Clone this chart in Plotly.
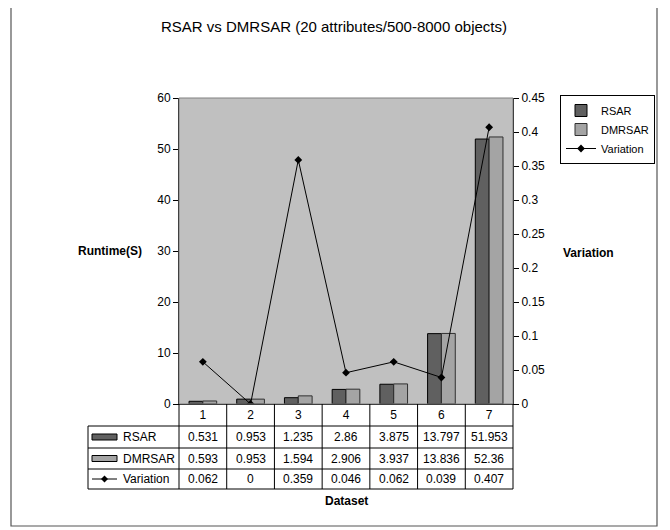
import plotly.graph_objects as go

# ---- data ----
datasets = [1, 2, 3, 4, 5, 6, 7]
rsar = [0.531, 0.953, 1.235, 2.86, 3.875, 13.797, 51.953]
dmrsar = [0.593, 0.953, 1.594, 2.906, 3.937, 13.836, 52.36]
variation = [0.062, 0, 0.359, 0.046, 0.062, 0.039, 0.407]
series_names = ["RSAR", "DMRSAR", "Variation"]

# ---- layout geometry (page pixels; the page body has an 8px margin) ----
OFF = 8
WIDTH, HEIGHT = 670 - OFF, 530 - OFF
PL, PR, PT, PB = 179, 513, 98, 404  # plot area edges in page pixels
PW, PH = PR - PL, PB - PT
FONT = "Liberation Sans, Arial, sans-serif"
C_RSAR = "#606060"
C_DMR = "#a4a4a4"


def px(x):
    return (x - PL) / PW


def py(y):
    return (PB - y) / PH


fig = go.Figure()
fig.add_trace(go.Bar(x=datasets, y=rsar, name=series_names[0],
                     marker=dict(color=C_RSAR, line=dict(color="black", width=1))))
fig.add_trace(go.Bar(x=datasets, y=dmrsar, name=series_names[1],
                     marker=dict(color=C_DMR, line=dict(color="#303030", width=1))))
fig.add_trace(go.Scatter(x=datasets, y=variation, name=series_names[2], yaxis="y2",
                         mode="lines+markers",
                         line=dict(color="black", width=1),
                         marker=dict(symbol="diamond", size=6, color="black")))

shapes = []
annotations = []

# outer chart border
shapes.append(dict(type="rect", xref="paper", yref="paper",
                   x0=px(11), x1=px(657), y0=py(526), y1=py(4),
                   line=dict(color="#555555", width=1.2), layer="below"))
# plot-area border (grey)
shapes.append(dict(type="rect", xref="paper", yref="paper",
                   x0=0, x1=1, y0=0, y1=1,
                   line=dict(color="#808080", width=1)))

# data table
n = len(datasets)
row_tops = [404, 426, 448, 469, 489]
TL = 88  # table left edge
for yy in row_tops[1:]:
    shapes.append(dict(type="line", xref="paper", yref="paper", x0=px(TL), x1=1,
                       y0=py(yy), y1=py(yy), line=dict(color="black", width=1)))
for k in range(n + 1):
    xx = k / n
    shapes.append(dict(type="line", xref="paper", yref="paper", x0=xx, x1=xx,
                       y0=py(row_tops[-1]), y1=0, line=dict(color="black", width=1)))
shapes.append(dict(type="line", xref="paper", yref="paper", x0=px(TL), x1=px(TL),
                   y0=py(row_tops[-1]), y1=py(row_tops[1]), line=dict(color="black", width=1)))

rows = [rsar, dmrsar, variation]
for r, vals in enumerate(rows):
    ycp = (row_tops[r + 1] + row_tops[r + 2]) / 2
    yc = py(ycp)
    for k, v in enumerate(vals):
        annotations.append(dict(x=datasets[k], xref="x", y=yc, yref="paper",
                                text=f"{v:g}", showarrow=False,
                                font=dict(family=FONT, size=12, color="black"),
                                xanchor="center", yanchor="middle"))
    annotations.append(dict(x=px(121), xref="paper", y=yc, yref="paper",
                            text=series_names[r], showarrow=False,
                            font=dict(family=FONT, size=12, color="black"),
                            xanchor="left", yanchor="middle"))
    if r < 2:
        shapes.append(dict(type="rect", xref="paper", yref="paper",
                           x0=px(92), x1=px(117), y0=py(ycp + 3), y1=py(ycp - 3),
                           fillcolor=[C_RSAR, C_DMR][r], line=dict(color="black", width=1)))
    else:
        shapes.append(dict(type="line", xref="paper", yref="paper",
                           x0=px(92), x1=px(117), y0=py(ycp), y1=py(ycp),
                           line=dict(color="black", width=1)))
        cx, cy = 104.5, ycp
        path = (f"M {px(cx-3.5)} {py(cy)} L {px(cx)} {py(cy-3.5)} "
                f"L {px(cx+3.5)} {py(cy)} L {px(cx)} {py(cy+3.5)} Z")
        shapes.append(dict(type="path", xref="paper", yref="paper", path=path,
                           fillcolor="black", line=dict(color="black", width=0)))

# axis titles
title_font = dict(family=FONT, size=12, color="black")
annotations.append(dict(x=px(110), xref="paper", y=py(251), yref="paper", text="<b>Runtime(S)</b>",
                        showarrow=False, font=title_font, xanchor="center", yanchor="middle"))
annotations.append(dict(x=px(588), xref="paper", y=py(253), yref="paper", text="<b>Variation</b>",
                        showarrow=False, font=title_font, xanchor="center", yanchor="middle"))
annotations.append(dict(x=0.5, xref="paper", y=py(501), yref="paper", text="<b>Dataset</b>",
                        showarrow=False, font=title_font, xanchor="center", yanchor="middle"))

fig.update_layout(
    width=WIDTH, height=HEIGHT,
    margin=dict(l=PL - OFF, r=WIDTH - (PR - OFF), t=PT - OFF, b=HEIGHT - (PB - OFF),
                autoexpand=False),
    paper_bgcolor="white", plot_bgcolor="#c0c0c0",
    font=dict(family=FONT, size=11, color="black"),
    title=dict(text="RSAR vs DMRSAR (20 attributes/500-8000 objects)",
               x=(334 - OFF) / WIDTH, xanchor="center",
               y=1 - (27 - OFF) / HEIGHT, yanchor="middle",
               font=dict(family=FONT, size=15, color="black")),
    barmode="group", bargap=0.42, bargroupgap=0,
    showlegend=True,
    legend=dict(x=px(560), y=py(95), xanchor="left", yanchor="top",
                bgcolor="white", bordercolor="black", borderwidth=1,
                font=dict(family=FONT, size=11, color="black"),
                itemwidth=30, tracegroupgap=0),
    xaxis=dict(range=[0.5, 7.5], tickmode="array", tickvals=datasets,
               ticktext=[str(d) for d in datasets], showgrid=False, zeroline=False,
               showline=True, linecolor="black", linewidth=1, ticks="",
               tickfont=dict(family=FONT, size=12, color="black")),
    yaxis=dict(range=[0, 60], dtick=10, showgrid=False, zeroline=False,
               showline=True, linecolor="black", linewidth=1,
               ticks="outside", ticklen=5, tickcolor="black",
               tickfont=dict(family=FONT, size=12, color="black")),
    yaxis2=dict(range=[0, 0.45], dtick=0.05, overlaying="y", side="right",
                showgrid=False, zeroline=False, showline=True, linecolor="black",
                linewidth=1, ticks="outside", ticklen=5, tickcolor="black",
                tickfont=dict(family=FONT, size=12, color="black")),
    shapes=shapes, annotations=annotations,
)

fig.write_html("out.html")
